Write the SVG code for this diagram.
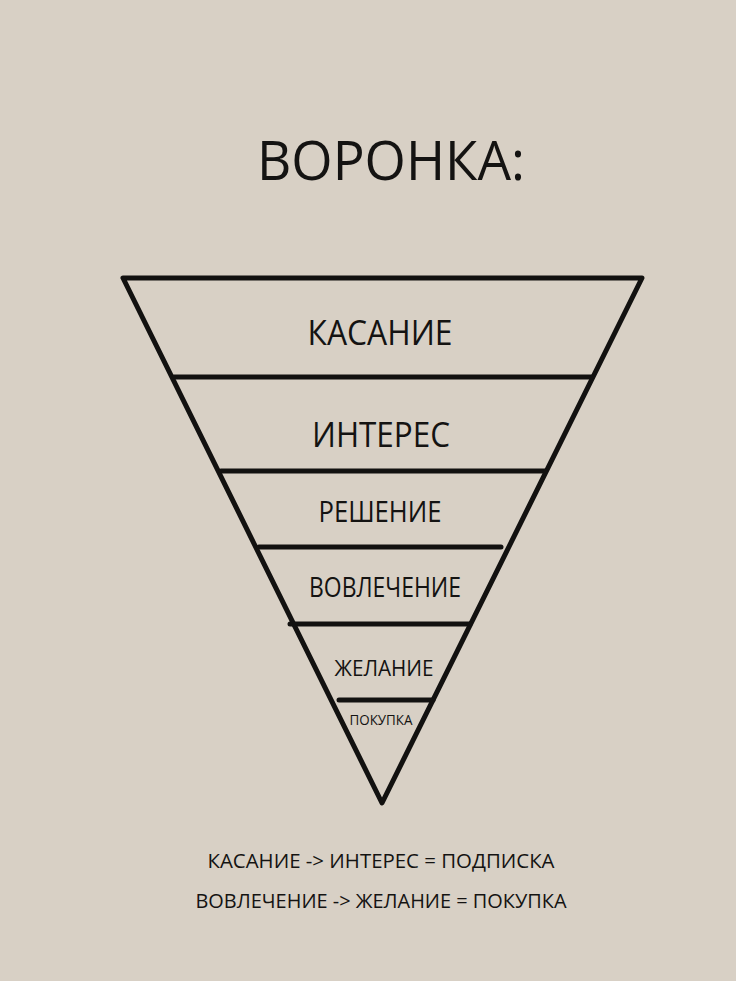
<svg xmlns="http://www.w3.org/2000/svg" width="736" height="981" viewBox="0 0 736 981">
  <style>
    .ln { stroke: #121110; stroke-width: 5; stroke-linecap: round; stroke-linejoin: round; fill: none; }
    .t { font-family: "Open Sans", "Liberation Sans", sans-serif; fill: #141312; text-anchor: middle; }
  </style>
  <rect width="736" height="981" fill="#d8d0c5"/>
  <g id="title">
    <text class="t" x="391" y="180" font-size="55" font-weight="500" textLength="268" lengthAdjust="spacingAndGlyphs">ВОРОНКА:</text>
  </g>
  <g id="connectors">
    <path class="ln" d="M123,278 L642,278 L382,803 Z"/>
    <line class="ln" x1="174" y1="377" x2="592" y2="377"/>
    <line class="ln" x1="221" y1="471" x2="545" y2="471"/>
    <line class="ln" x1="259" y1="547" x2="501" y2="547"/>
    <line class="ln" x1="290" y1="624" x2="470" y2="624"/>
    <line class="ln" x1="339" y1="700" x2="433" y2="700"/>
  </g>
  <g id="kasanie">
    <text class="t" x="380" y="345" font-size="34" textLength="145" lengthAdjust="spacingAndGlyphs">КАСАНИЕ</text>
  </g>
  <g id="interes">
    <text class="t" x="381" y="447" font-size="34" textLength="138" lengthAdjust="spacingAndGlyphs">ИНТЕРЕС</text>
  </g>
  <g id="reshenie">
    <text class="t" x="380" y="522" font-size="30" textLength="123" lengthAdjust="spacingAndGlyphs">РЕШЕНИЕ</text>
  </g>
  <g id="vovlechenie">
    <text class="t" x="385" y="597" font-size="27" textLength="152" lengthAdjust="spacingAndGlyphs">ВОВЛЕЧЕНИЕ</text>
  </g>
  <g id="zhelanie">
    <text class="t" x="384" y="676" font-size="22" textLength="99" lengthAdjust="spacingAndGlyphs">ЖЕЛАНИЕ</text>
  </g>
  <g id="pokupka">
    <text class="t" x="381" y="725" font-size="14" textLength="63" lengthAdjust="spacingAndGlyphs">ПОКУПКА</text>
  </g>
  <g id="legend1">
    <text class="t" x="381" y="868" font-size="20" textLength="347" lengthAdjust="spacingAndGlyphs">КАСАНИЕ -&gt; ИНТЕРЕС = ПОДПИСКА</text>
  </g>
  <g id="legend2">
    <text class="t" x="381" y="908" font-size="20" textLength="371" lengthAdjust="spacingAndGlyphs">ВОВЛЕЧЕНИЕ -&gt; ЖЕЛАНИЕ = ПОКУПКА</text>
  </g>
</svg>
